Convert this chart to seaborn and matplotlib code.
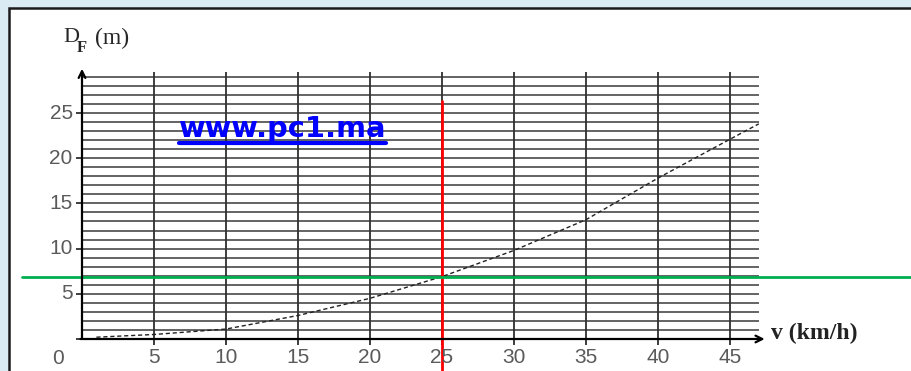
import matplotlib
matplotlib.use("Agg")
import matplotlib.pyplot as plt
import pandas as pd
import seaborn as sns
from matplotlib.lines import Line2D
from matplotlib.patches import Rectangle

# braking distance curve
speed_kmh = [1, 5, 10, 15, 20, 25, 30, 35, 40, 45, 47]
distance_m = [0.2, 0.5, 1.1, 2.6, 4.5, 6.9, 9.8, 13.2, 17.8, 22.1, 23.8]
x_ticks = [5, 10, 15, 20, 25, 30, 35, 40, 45]
y_ticks = [5, 10, 15, 20, 25]
grid_rows = list(range(1, 30))
marked_speed = 25
marked_distance = 6.9

W, H = 912, 371


def fx(px):
    return px / W


def fy(py):
    return 1 - py / H


sns.set_theme(style="white")
plt.rcParams["font.family"] = ["Liberation Sans", "DejaVu Sans"]

fig = plt.figure(figsize=(W / 100, H / 100), dpi=100)
fig.patch.set_facecolor("#dbebf3")
fig.add_artist(Rectangle((fx(9), fy(400)), fx(950), fy(8) - fy(400),
                         transform=fig.transFigure, facecolor="white",
                         edgecolor="#1a1a1a", linewidth=1.8, zorder=0))

x0, x1 = 82, 82 + 47 * 14.4
y0 = 339
y1 = y0 - 29.2 * 9.04
ax = fig.add_axes([fx(x0), fy(y0), fx(x1 - x0), (y0 - y1) / H])
ax.set_facecolor("none")
ax.set_xlim(0, 47)
ax.set_ylim(0, 29.2)

ax.hlines(grid_rows, 0, 47, color="#2e2e2e", linewidth=1.3, alpha=0.8)
ax.vlines(x_ticks, -0.7, 29.5, color="#2e2e2e", linewidth=1.3, clip_on=False)

df = pd.DataFrame({"v": speed_kmh, "D": distance_m})
sns.lineplot(data=df, x="v", y="D", ax=ax, color="#222222", linewidth=1.0,
             dashes=False, linestyle=(0, (3, 2)))

for side in ["top", "right", "left", "bottom"]:
    ax.spines[side].set_visible(False)
ax.set_xticks([])
ax.set_yticks([])
ax.set_xlabel("")
ax.set_ylabel("")

# axes with arrows
ax.annotate("", xy=(0, 30.2), xytext=(0, -0.3), annotation_clip=False,
            arrowprops=dict(arrowstyle="->", color="black", lw=1.6))
ax.annotate("", xy=(47.6, 0), xytext=(-0.3, 0), annotation_clip=False,
            arrowprops=dict(arrowstyle="->", color="black", lw=1.6))
ax.hlines([0] + y_ticks, -0.45, 0, color="#2e2e2e", linewidth=1.3, clip_on=False)

for t in y_ticks:
    ax.text(-0.65, t, str(t), ha="right", va="center", fontsize=15, color="#5a5a5a")
for t in x_ticks:
    ax.text(t, -2.1, str(t), ha="center", va="center", fontsize=15, color="#5a5a5a")
fig.text(fx(58), fy(358), "0", ha="center", va="center", fontsize=15, color="#5a5a5a")

# axis titles
serif = ["Liberation Serif", "DejaVu Serif"]
fig.text(fx(63), fy(37), "D", ha="left", va="center", fontsize=16, family=serif)
fig.text(fx(77), fy(48), "F", ha="left", va="center", fontsize=12, family=serif,
         fontweight="bold")
fig.text(fx(95), fy(38), "(m)", ha="left", va="center", fontsize=17, family=serif)
fig.text(fx(771), fy(333), "v (km/h)", ha="left", va="center", fontsize=17,
         family=serif, fontweight="bold", color="#222222")

# markers for the reading at 25 km/h
ax.plot([marked_speed, marked_speed], [26.3, -3.6], color="#ff0000", linewidth=2,
        clip_on=False)
ax.plot([(22 - x0) / 14.4, (W - x0) / 14.4], [marked_distance, marked_distance],
        color="#00b050", linewidth=2, clip_on=False)

# watermark
fig.text(fx(179), fy(137), "www.pc1.ma", ha="left", va="baseline", fontsize=20.8,
         fontweight="bold", color="#0000ff", family=["DejaVu Sans"])
fig.add_artist(Line2D([fx(179), fx(386)], [fy(143), fy(143)], color="#0000ff",
                      linewidth=3, transform=fig.transFigure))

fig.savefig("out.png", dpi=100)
